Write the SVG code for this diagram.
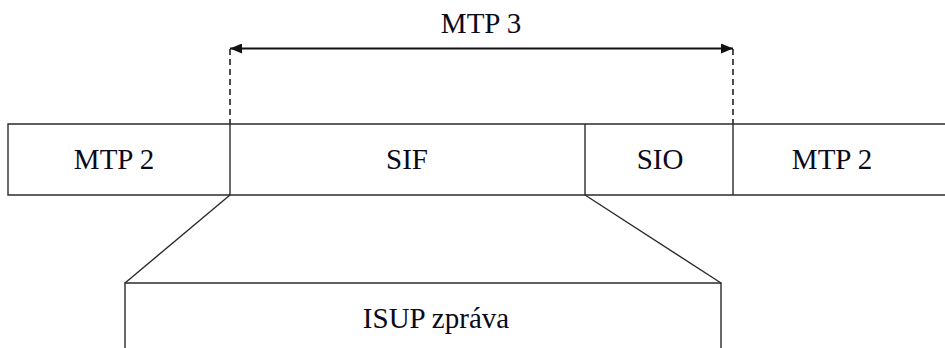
<svg xmlns="http://www.w3.org/2000/svg" width="945" height="348" viewBox="0 0 945 348" font-family="Liberation Serif, serif">
<style>
.ln{stroke:#2b2b2b;stroke-width:1.4;fill:none}
.ds{stroke:#3a3a3a;stroke-width:1.8;fill:none;stroke-dasharray:6 4}
.t{font-size:29px;fill:#0a0a1a;text-anchor:middle}
</style>
<defs>
<marker id="ah" viewBox="0 0 12 10" refX="12" refY="5" markerWidth="12" markerHeight="10" markerUnits="userSpaceOnUse" orient="auto-start-reverse">
<path d="M0,0 L12,5 L0,10 Z" fill="#111"/>
</marker>
</defs>
<rect width="945" height="348" fill="#fff"/>
<g id="band">
<path class="ln" d="M945,124 H8 V195 H945"/>
</g>
<g id="mtp2-left"><text class="t" font-family="Liberation Serif" x="114" y="169">MTP 2</text></g>
<g id="sif"><line class="ln" x1="230" y1="124" x2="230" y2="195"/><text class="t" font-family="Liberation Serif" x="407" y="169">SIF</text></g>
<g id="sio"><line class="ln" x1="585" y1="124" x2="585" y2="195"/><text class="t" font-family="Liberation Serif" x="660" y="169">SIO</text></g>
<g id="mtp2-right"><line class="ln" x1="733" y1="124" x2="733" y2="195"/><text class="t" font-family="Liberation Serif" x="832" y="169">MTP 2</text></g>
<g id="isup">
<path class="ln" d="M125,348 V283 H721 V348"/>
<text class="t" font-family="Liberation Serif" x="436" y="328">ISUP zpráva</text>
</g>
<g id="mtp3"><text class="t" font-family="Liberation Serif" x="481" y="33">MTP 3</text></g>
<g id="connectors">
<line class="ds" x1="230" y1="49" x2="230" y2="124"/>
<line class="ds" x1="733" y1="49" x2="733" y2="124"/>
<line x1="230" y1="48.5" x2="733" y2="48.5" stroke="#111" stroke-width="2" marker-start="url(#ah)" marker-end="url(#ah)"/>
<line class="ln" x1="230" y1="195" x2="125" y2="283"/>
<line class="ln" x1="585" y1="195" x2="721" y2="283"/>
</g>
</svg>
